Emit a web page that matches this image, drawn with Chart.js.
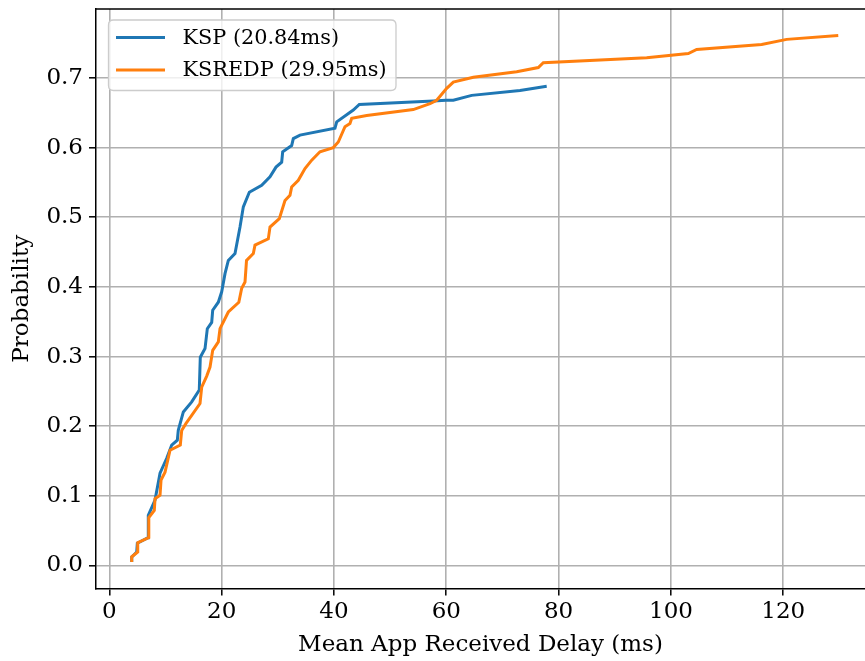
<!DOCTYPE html>
<html>
<head>
<meta charset="utf-8">
<script src="https://cdn.jsdelivr.net/npm/chart.js@4/dist/chart.umd.min.js"></script>
<style>
  html, body { margin: 0; padding: 0; background: #fff; overflow: hidden; }
  #c { display: block; }
</style>
</head>
<body>
<canvas id="c" width="865" height="661"></canvas>
<script>
// ---- data ----
const seriesLabels = ["KSP (20.84ms)", "KSREDP (29.95ms)"];
const xTicks = [0, 20, 40, 60, 80, 100, 120];
const yTicks = [0.0, 0.1, 0.2, 0.3, 0.4, 0.5, 0.6, 0.7];

const kspX = [3.99, 3.99, 4.88, 4.99, 6.89, 6.94, 8.14, 9.03, 10.22, 11.11, 12.11, 12.28, 13.18, 14.67, 16.02, 16.20, 17.04, 17.45, 18.23, 18.41, 19.41, 20.01, 20.60, 21.19, 22.38, 23.27, 23.86, 24.93, 27.13, 28.61, 29.68, 30.69, 30.87, 32.47, 32.76, 33.95, 40.18, 40.49, 43.44, 44.51, 57.69, 59.95, 61.25, 64.52, 73.12, 77.88];
const kspY = [0.005, 0.012, 0.0195, 0.032, 0.040, 0.072, 0.094, 0.1325, 0.154, 0.173, 0.180, 0.194, 0.2205, 0.235, 0.252, 0.299, 0.3115, 0.340, 0.349, 0.3665, 0.378, 0.393, 0.419, 0.438, 0.448, 0.486, 0.515, 0.536, 0.546, 0.558, 0.572, 0.579, 0.594, 0.603, 0.613, 0.618, 0.628, 0.637, 0.654, 0.662, 0.667, 0.668, 0.668, 0.675, 0.682, 0.688];

const ksredpX = [3.99, 3.99, 5.06, 5.06, 7.03, 7.03, 8.01, 8.14, 9.03, 9.21, 9.92, 10.81, 12.64, 12.89, 13.66, 14.07, 16.15, 16.45, 17.34, 17.93, 18.41, 19.41, 19.71, 21.19, 23.06, 23.57, 24.16, 24.43, 25.64, 25.94, 28.31, 28.61, 30.27, 31.28, 32.17, 32.47, 33.65, 34.84, 36.04, 37.51, 39.88, 40.77, 41.96, 42.85, 43.16, 45.83, 54.12, 57.10, 58.29, 60.07, 61.25, 64.81, 72.53, 76.38, 77.27, 95.68, 103.09, 104.58, 116.15, 120.60, 129.79];
const ksredpY = [0.005, 0.0126, 0.0195, 0.0327, 0.040, 0.069, 0.079, 0.096, 0.101, 0.1225, 0.134, 0.1655, 0.173, 0.194, 0.204, 0.2086, 0.2326, 0.256, 0.272, 0.285, 0.309, 0.321, 0.340, 0.364, 0.378, 0.398, 0.407, 0.438, 0.448, 0.460, 0.469, 0.486, 0.498, 0.524, 0.5316, 0.5435, 0.553, 0.570, 0.582, 0.594, 0.600, 0.608, 0.630, 0.6345, 0.642, 0.646, 0.6546, 0.663, 0.668, 0.685, 0.694, 0.701, 0.709, 0.715, 0.722, 0.729, 0.735, 0.741, 0.748, 0.7554, 0.761];

const colors = ["#1f77b4", "#ff7f0e"];
const FONT = "'DejaVu Serif'";

function pairs(xs, ys) { return xs.map((x, i) => ({ x: x, y: ys[i] })); }

const framePlugin = {
  id: 'frame',
  afterDraw(chart) {
    const { ctx, chartArea: a } = chart;
    ctx.save();
    ctx.strokeStyle = '#000';
    ctx.lineWidth = 1.5;
    ctx.beginPath();
    ctx.moveTo(a.left - 0.75, a.top);
    ctx.lineTo(a.right + 2, a.top);
    ctx.stroke();
    ctx.restore();
  }
};

const legendPlugin = {
  id: 'boxLegend',
  afterDatasetsDraw(chart) {
    const { ctx } = chart;
    const bx = 108.5, by = 20, bw = 287.5, bh = 70.5, r = 5;
    ctx.save();
    ctx.beginPath();
    ctx.moveTo(bx + r, by);
    ctx.lineTo(bx + bw - r, by);
    ctx.quadraticCurveTo(bx + bw, by, bx + bw, by + r);
    ctx.lineTo(bx + bw, by + bh - r);
    ctx.quadraticCurveTo(bx + bw, by + bh, bx + bw - r, by + bh);
    ctx.lineTo(bx + r, by + bh);
    ctx.quadraticCurveTo(bx, by + bh, bx, by + bh - r);
    ctx.lineTo(bx, by + r);
    ctx.quadraticCurveTo(bx, by, bx + r, by);
    ctx.closePath();
    ctx.fillStyle = 'rgba(255,255,255,0.8)';
    ctx.fill();
    ctx.strokeStyle = '#cccccc';
    ctx.lineWidth = 1.3;
    ctx.stroke();
    const rows = [37.5, 70];
    chart.data.datasets.forEach((ds, i) => {
      ctx.strokeStyle = ds.borderColor;
      ctx.lineWidth = 3;
      ctx.beginPath();
      ctx.moveTo(116, rows[i]);
      ctx.lineTo(165, rows[i]);
      ctx.stroke();
      ctx.fillStyle = '#000';
      ctx.font = "20.8px " + FONT;
      ctx.textBaseline = 'middle';
      ctx.textAlign = 'left';
      ctx.fillText(ds.label, 182.5, rows[i] + 1);
    });
    ctx.restore();
  }
};

new Chart(document.getElementById('c'), {
  type: 'line',
  data: {
    datasets: [
      { label: seriesLabels[0], data: pairs(kspX, kspY), borderColor: colors[0], backgroundColor: colors[0], borderWidth: 3, pointRadius: 0, tension: 0, fill: false, order: 1 },
      { label: seriesLabels[1], data: pairs(ksredpX, ksredpY), borderColor: colors[1], backgroundColor: colors[1], borderWidth: 3, pointRadius: 0, tension: 0, fill: false, order: 0 }
    ]
  },
  options: {
    responsive: false,
    animation: false,
    events: [],
    layout: { padding: { top: 9, right: 0, left: 0, bottom: 0 } },
    plugins: { legend: { display: false }, tooltip: { enabled: false } },
    scales: {
      x: {
        type: 'linear',
        min: -2.37,
        max: 134.55,
        afterBuildTicks: (s) => { s.ticks = xTicks.map(v => ({ value: v })); },
        afterFit: (s) => { s.height = 72.5; s.paddingLeft = 0; s.paddingRight = 0; },
        grid: { color: '#b0b0b0', lineWidth: 1.6, tickLength: 7, tickColor: '#000', tickWidth: 1.5, drawOnChartArea: true },
        border: { display: true, color: '#000', width: 1.5 },
        ticks: { color: '#000', font: { family: FONT, size: 23 }, padding: 3, maxRotation: 0, callback: (v) => String(v) },
        title: { display: true, text: 'Mean App Received Delay (ms)', color: '#000', font: { family: FONT, size: 23 }, padding: { top: 0, bottom: 2 } }
      },
      y: {
        type: 'linear',
        min: -0.033,
        max: 0.799,
        afterBuildTicks: (s) => { s.ticks = yTicks.map(v => ({ value: v })); },
        afterFit: (s) => { s.width = 96; s.paddingTop = 0; s.paddingBottom = 0; },
        grid: { color: '#b0b0b0', lineWidth: 1.6, tickLength: 7, tickColor: '#000', tickWidth: 1.5 },
        border: { display: true, color: '#000', width: 1.5 },
        ticks: { color: '#000', font: { family: FONT, size: 23 }, padding: 6, callback: (v) => v.toFixed(1) },
        title: { display: true, text: 'Probability', color: '#000', font: { family: FONT, size: 23 }, padding: { top: 8, bottom: 0 } }
      }
    }
  },
  plugins: [framePlugin, legendPlugin]
});
</script>
</body>
</html>
